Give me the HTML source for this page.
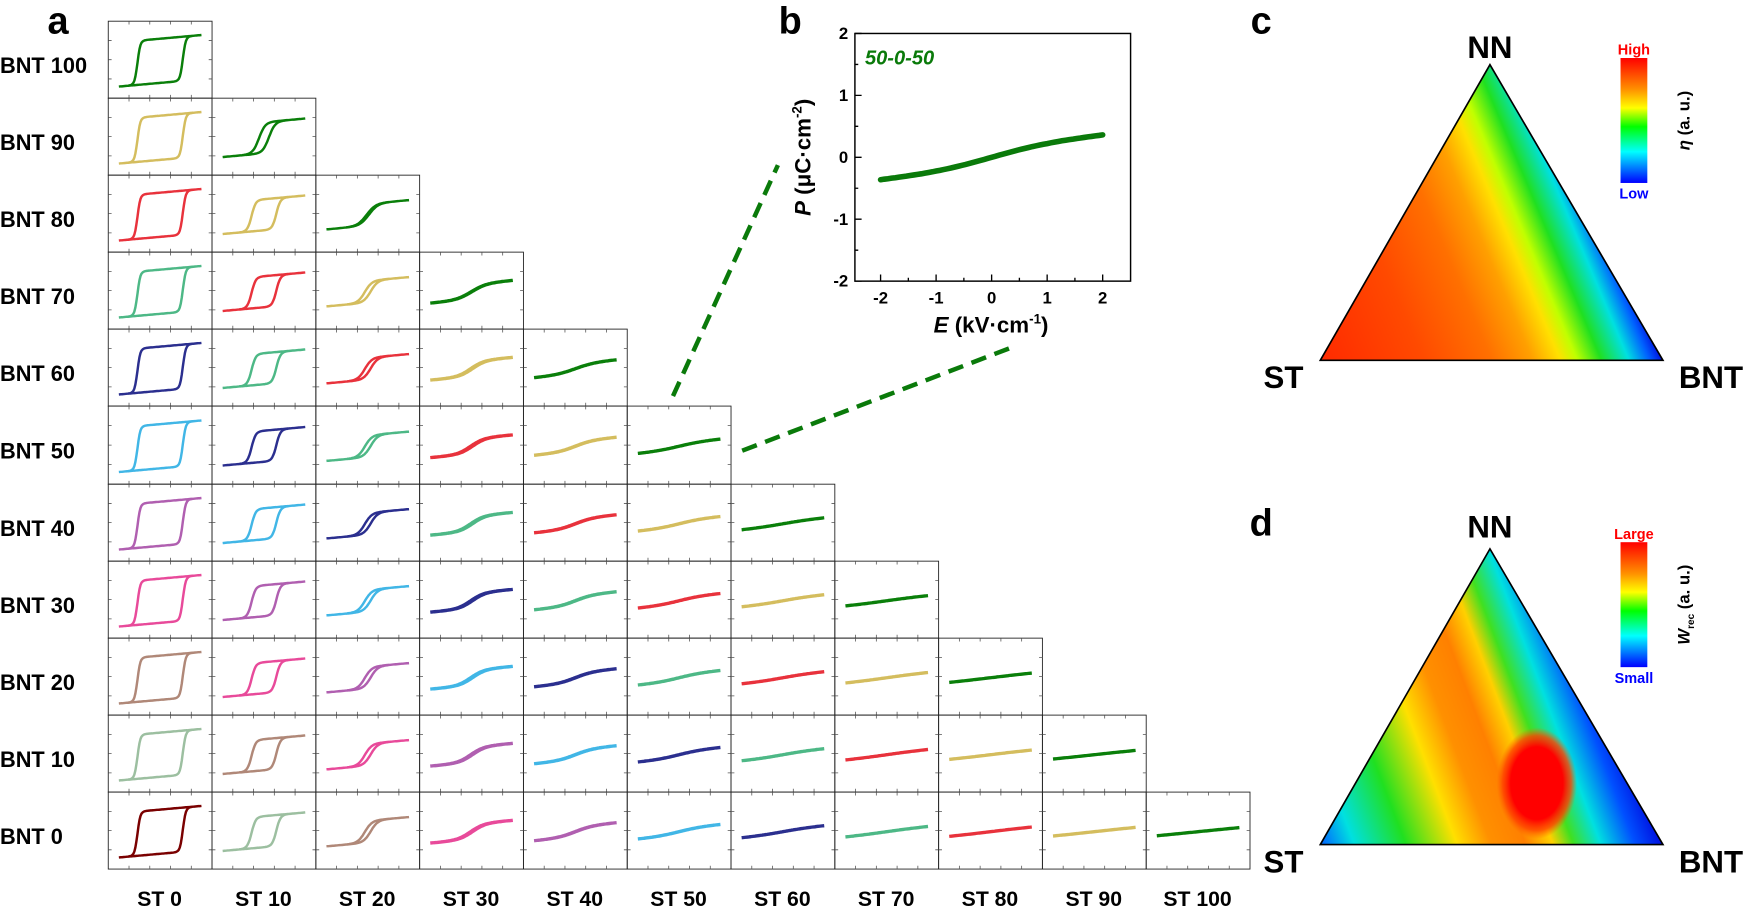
<!DOCTYPE html>
<html><head><meta charset="utf-8"><style>
html,body{margin:0;padding:0;background:#fff;}
svg{display:block;}
text{font-family:"Liberation Sans",Arial,sans-serif;font-weight:bold;}
</style></head><body>
<svg id="s" width="1750" height="907" viewBox="0 0 1568 813" preserveAspectRatio="none" xmlns="http://www.w3.org/2000/svg">
<defs>
<linearGradient id="gc" gradientUnits="userSpaceOnUse" x1="1183" y1="323" x2="1444" y2="213">
<stop offset="0" stop-color="#ff2a00"/><stop offset="0.3" stop-color="#ff4a00"/><stop offset="0.5" stop-color="#ff7000"/><stop offset="0.62" stop-color="#ffa000"/><stop offset="0.7" stop-color="#ffe000"/><stop offset="0.75" stop-color="#c0ff00"/><stop offset="0.82" stop-color="#20e020"/><stop offset="0.9" stop-color="#00e0e0"/><stop offset="0.96" stop-color="#0060ff"/><stop offset="1" stop-color="#0010e0"/>
</linearGradient>
<linearGradient id="gd" gradientUnits="userSpaceOnUse" x1="1183" y1="757" x2="1451" y2="655">
<stop offset="0" stop-color="#0060ff"/><stop offset="0.1" stop-color="#00e0e0"/><stop offset="0.25" stop-color="#20e020"/><stop offset="0.4" stop-color="#ffe000"/><stop offset="0.5" stop-color="#ff9000"/><stop offset="0.6" stop-color="#ff8000"/><stop offset="0.68" stop-color="#ffd000"/><stop offset="0.74" stop-color="#40e020"/><stop offset="0.82" stop-color="#00e0e0"/><stop offset="0.92" stop-color="#0050ff"/><stop offset="1" stop-color="#0010e0"/>
</linearGradient>
<radialGradient id="rb" cx="0.5" cy="0.5" r="0.5"><stop offset="0" stop-color="#ff0000"/><stop offset="0.65" stop-color="#ff0000"/><stop offset="0.85" stop-color="#ff4000" stop-opacity="0.8"/><stop offset="1" stop-color="#ff6000" stop-opacity="0"/></radialGradient>
<linearGradient id="cb" x1="0" y1="0" x2="0" y2="1"><stop offset="0" stop-color="#ff0000"/><stop offset="0.25" stop-color="#ff9000"/><stop offset="0.4" stop-color="#ffff00"/><stop offset="0.55" stop-color="#00ff00"/><stop offset="0.75" stop-color="#00ffff"/><stop offset="1" stop-color="#0000ff"/></linearGradient>
<clipPath id="tc"><polygon points="1335,58 1183,323 1490,323"/></clipPath>
<clipPath id="td"><polygon points="1335,492 1183,757 1490,757"/></clipPath>
</defs>
<g id="grid"></g>
<text x="52" y="30" font-size="34" text-anchor="middle">a</text>
<text x="708" y="30" font-size="34" text-anchor="middle">b</text>
<text x="1130" y="30" font-size="34" text-anchor="middle">c</text>
<text x="1130" y="480" font-size="34" text-anchor="middle">d</text>
<line x1="603" y1="355" x2="697" y2="148" stroke="#0a7a0a" stroke-width="4" stroke-dasharray="14,8"/>
<line x1="665" y1="404" x2="905" y2="312" stroke="#0a7a0a" stroke-width="4" stroke-dasharray="14,8"/>
<rect x="766" y="30" width="247" height="222" fill="none" stroke="#000" stroke-width="1.3"/>
<g id="bt"></g>
<text x="775" y="58" font-size="18" fill="#0a7a0a" font-style="italic">50-0-50</text>
<text x="888" y="298" font-size="20" text-anchor="middle"><tspan font-style="italic">E</tspan> (kV·cm<tspan font-size="12" dy="-8">-1</tspan><tspan dy="8">)</tspan></text>
<text transform="translate(726,141) rotate(-90)" font-size="20" text-anchor="middle"><tspan font-style="italic">P</tspan> (μC·cm<tspan font-size="12" dy="-8">-2</tspan><tspan dy="8">)</tspan></text>
<path id="bcurve" fill="none" stroke="#0a7a0a" stroke-width="5" stroke-linecap="round"/>
<rect x="1183" y="58" width="307" height="265" fill="url(#gc)" clip-path="url(#tc)"/>
<polygon points="1335,58 1183,323 1490,323" fill="none" stroke="#000" stroke-width="1.5"/>
<text x="1335" y="52" font-size="28" text-anchor="middle">NN</text>
<text x="1150" y="348" font-size="28" text-anchor="middle">ST</text>
<text x="1533" y="348" font-size="28" text-anchor="middle">BNT</text>
<rect x="1452" y="52" width="24" height="112" fill="url(#cb)"/>
<text x="1464" y="49" font-size="13" fill="#ff0000" text-anchor="middle">High</text>
<text x="1464" y="178" font-size="13" fill="#0000ff" text-anchor="middle">Low</text>
<text transform="translate(1514,108) rotate(-90)" font-size="15" text-anchor="middle"><tspan font-style="italic">η</tspan> (a. u.)</text>
<g clip-path="url(#td)">
<rect x="1183" y="492" width="307" height="265" fill="url(#gd)"/>
<ellipse cx="1377" cy="702" rx="36" ry="50" fill="url(#rb)"/>
</g>
<polygon points="1335,492 1183,757 1490,757" fill="none" stroke="#000" stroke-width="1.5"/>
<text x="1335" y="482" font-size="28" text-anchor="middle">NN</text>
<text x="1150" y="782" font-size="28" text-anchor="middle">ST</text>
<text x="1533" y="782" font-size="28" text-anchor="middle">BNT</text>
<rect x="1452" y="486" width="24" height="112" fill="url(#cb)"/>
<text x="1464" y="483" font-size="13" fill="#ff0000" text-anchor="middle">Large</text>
<text x="1464" y="612" font-size="13" fill="#0000ff" text-anchor="middle">Small</text>
<text transform="translate(1514,542) rotate(-90)" font-size="15" text-anchor="middle"><tspan font-style="italic">W</tspan><tspan font-size="9" dy="4">rec</tspan><tspan dy="-4"> (a. u.)</tspan></text>
</svg>
<script>
(function(){
var NS="http://www.w3.org/2000/svg";
var g=document.getElementById('grid');
function el(t,a,p){var e=document.createElementNS(NS,t);for(var k in a)e.setAttribute(k,a[k]);(p||g).appendChild(e);return e;}
var cols=[];for(var i=0;i<=11;i++)cols.push(97+i*93);
var rows=[19,88,157,226,295,364,434,503,572,641,710,779];
var colors=['#0a7f0a','#d4bd5e','#e8323c','#4db886','#2b2f8f','#41b6e6','#b05fb0','#e84a9a','#b08878','#9cbfa0','#7a0000'];
var EcT=[0.55,0.3,0.07,0.025,0.012,0.006,0.003,0,0,0,0];
var wT=[0.07,0.1,0.17,0.32,0.45,0.6,0.75,0.9,1.05,1.2,1.35];
function tanh(x){var e=Math.exp(2*x);return (e-1)/(e+1);}
for(var r=0;r<11;r++){
  var cy0=rows[r],cy1=rows[r+1],cym=(cy0+cy1)/2;
  var t=el('text',{x:0,y:cym+12,'font-size':19.5});t.textContent='BNT '+(100-10*r);
  for(var c=0;c<=r;c++){
    var x0=cols[c],x1=cols[c+1],cx=(x0+x1)/2;
    el('rect',{x:x0,y:cy0,width:93,height:cy1-cy0,fill:'none',stroke:'#222','stroke-width':0.8});
    var d='';
    for(var k=1;k<5;k++){var tx=x0+k*18.6;d+='M'+tx+' '+cy0+'v3M'+tx+' '+cy1+'v-3';}
    for(var k=1;k<4;k++){var ty=cy0+k*(cy1-cy0)/4;d+='M'+x0+' '+ty+'h3M'+x1+' '+ty+'h-3';}
    el('path',{d:d,stroke:'#555','stroke-width':0.7,fill:'none'});
    var s=c,n=r-c;
    var A=0.45*Math.exp(-0.35*s);
    var Ec=EcT[s]*((n==0&&s>0)?0.4:1);
    var w=wT[s]+(n==0&&s>0?0.05:0);
    var kk=0.075;
    var p='';
    [[1,1],[-1,-1]].forEach(function(b){
      for(var i=0;i<=80;i++){
        var u=b[0]==1?(-1+2*i/80):(1-2*i/80);
        var P=A*tanh((u-b[1]*Ec)/w)+kk*u;
        var X=cx+u*37,Y=cym+1-P*44;
        p+=(i==0?'M':'L')+X.toFixed(1)+' '+Y.toFixed(1);
      }
    });
    el('path',{d:p,fill:'none',stroke:colors[n],'stroke-width':s>=3?3:2.2,'stroke-linejoin':'round'});
  }
}
for(var c=0;c<11;c++){var t=el('text',{x:cols[c]+46,y:812,'font-size':19,'text-anchor':'middle'});t.textContent='ST '+(10*c);}
var bt=document.getElementById('bt');
function X(e){return 789+(e+2)*49.75;}function Y(p){return 141-p*55.5;}
var d='';
for(var e=-2;e<=2;e+=0.5){var full=(e%1==0);d+='M'+X(e)+' 252v'+(full?-6:-3);}
for(var p=-2;p<=2;p+=0.5){var full=(p%1==0);d+='M766 '+Y(p)+'h'+(full?6:3);}
el('path',{d:d,stroke:'#000','stroke-width':1.2,fill:'none'},bt);
for(var e=-2;e<=2;e++){var t=el('text',{x:X(e),y:272,'font-size':15,'text-anchor':'middle'},bt);t.textContent=e;}
for(var p=-2;p<=2;p++){var t=el('text',{x:760,y:Y(p)+5,'font-size':15,'text-anchor':'end'},bt);t.textContent=p;}
var pp='';
for(var i=0;i<=60;i++){var e=-2+4*i/60;var P=0.1*e+0.17*tanh(e/1.1);pp+=(i?'L':'M')+X(e).toFixed(1)+' '+Y(P).toFixed(1);}
document.getElementById('bcurve').setAttribute('d',pp);
})();
</script>
</body></html>
